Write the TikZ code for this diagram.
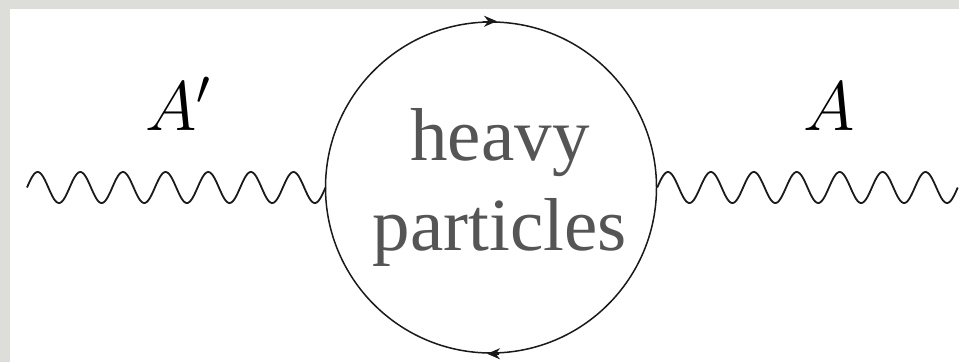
\RequirePackage{fix-cm}
\documentclass[tikz,border=0pt]{standalone}
\usepackage{fontspec}
\newfontfamily\blobfont{Liberation Serif}
\usetikzlibrary{arrows.meta}
\definecolor{bggray}{RGB}{221,221,217}
\definecolor{textgray}{RGB}{85,85,85}
\definecolor{ink}{RGB}{26,26,26}
\tikzset{
  loop/.style={circle, draw=ink, line width=1.5pt, minimum size=331pt, inner sep=0pt},
  wave/.style={draw=ink, line width=1.8pt},
  flowtip/.style={draw=ink, line width=1.5pt, -{Stealth[length=13pt,width=11pt]}},
  label/.style={inner sep=0pt, anchor=base west, font=\fontsize{70}{84}\selectfont},
  blobtext/.style={inner sep=0pt, text=textgray, align=center, font=\blobfont\fontsize{75}{90}\selectfont}
}
\begin{document}
\begin{tikzpicture}[x=1pt,y=-1pt]
\useasboundingbox (0,0) rectangle (959,362);
\fill[bggray] (0,0) rectangle (959,362);
\fill[white] (10,9) rectangle (959,362);
\node[loop] (c) at (491,187.5) {};
\coordinate (wl) at (27,187.5);
\coordinate (wr) at (957,187.5);
\draw[wave, shift={(wl)}] plot[domain=0:298.5, samples=300, smooth] (\x, {-15.5*sin(8.44221*\x)});
\draw[wave, shift={(c.east)}] plot[domain=0:300.5, samples=300, smooth] (\x, {-15.5*sin(8.38602*\x)});
\draw[flowtip] ([xshift=-8pt]c.north) -- ([xshift=6pt]c.north);
\draw[flowtip] ([xshift=8pt]c.south) -- ([xshift=-4pt]c.south);
\node[blobtext, anchor=base] (t) at (500,250) {heavy\\particles};
\node[label] (ap) at (145,130) {$A'$};
\node[label] (a) at (803,130) {$A$};
\end{tikzpicture}
\end{document}
